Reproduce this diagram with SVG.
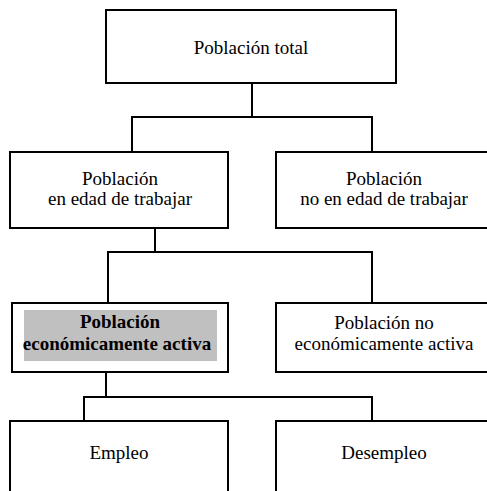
<svg xmlns="http://www.w3.org/2000/svg" width="487" height="491" viewBox="0 0 487 491">
<style>
.box{fill:#fff;stroke:#000;stroke-width:2}
.ln{fill:none;stroke:#000;stroke-width:2}
text{font-family:"Liberation Serif","DejaVu Serif",serif;font-size:19px;fill:#000;text-anchor:middle}
.b{font-weight:bold}
</style>
<rect width="487" height="491" fill="#fff"/>
<g id="connectors">
<path class="ln" d="M252,83V117M132,152V117H372V152"/>
<path class="ln" d="M155,228V252M108,303V252H372V303"/>
<path class="ln" d="M106,372V397M84,421V397H372V421"/>
</g>
<g id="n-total">
<rect class="box" x="106" y="10" width="290" height="73"/>
<text x="251" y="54">Población total</text>
</g>
<g id="n-edad">
<rect class="box" x="10" y="152" width="218" height="76"/>
<text x="120" y="185">Población</text>
<text x="120" y="205">en edad de trabajar</text>
</g>
<g id="n-noedad">
<rect class="box" x="276" y="152" width="216" height="76"/>
<text x="384" y="185">Población</text>
<text x="384" y="205">no en edad de trabajar</text>
</g>
<g id="n-pea">
<rect class="box" x="12" y="303" width="216" height="69"/>
<rect x="24" y="310" width="193" height="51" fill="#c0c0c0"/>
<text class="b" x="120" y="328">Población</text>
<text class="b" x="117" y="350">económicamente activa</text>
</g>
<g id="n-pnea">
<rect class="box" x="276" y="303" width="216" height="69"/>
<text x="384" y="329">Población no</text>
<text x="384" y="350">económicamente activa</text>
</g>
<g id="n-empleo">
<rect class="box" x="10" y="421" width="218" height="80"/>
<text x="119" y="459">Empleo</text>
</g>
<g id="n-desempleo">
<rect class="box" x="276" y="421" width="216" height="80"/>
<text x="384" y="459">Desempleo</text>
</g>
</svg>
